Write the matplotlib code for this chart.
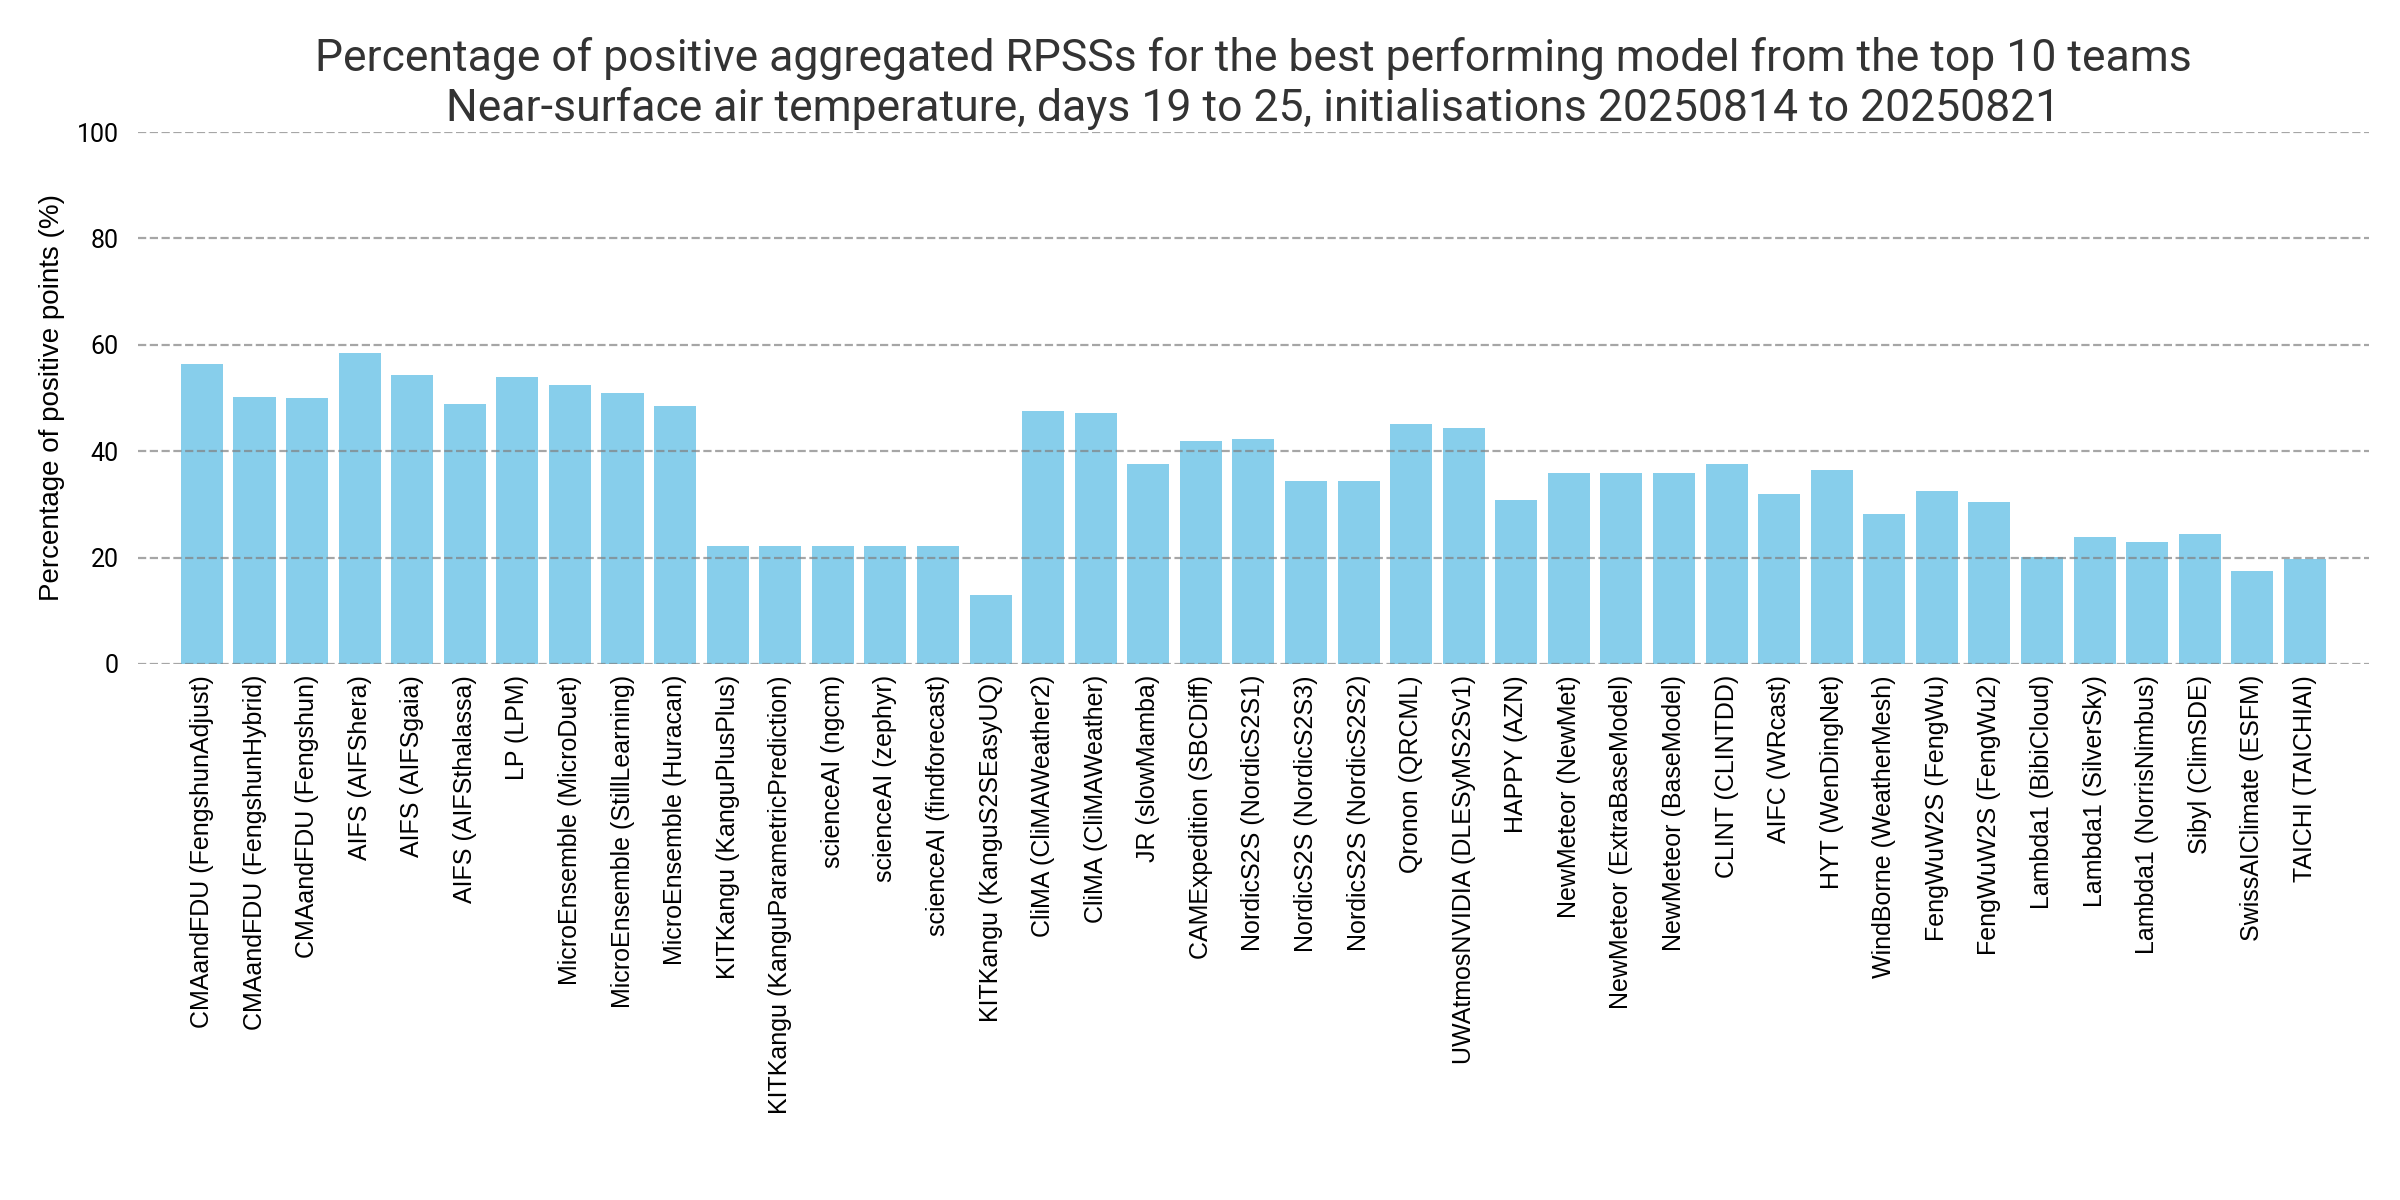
import matplotlib
matplotlib.use("Agg")
import matplotlib.pyplot as plt
import numpy as np

teams = [
    "CMAandFDU (FengshunAdjust)", "CMAandFDU (FengshunHybrid)", "CMAandFDU (Fengshun)",
    "AIFS (AIFShera)", "AIFS (AIFSgaia)", "AIFS (AIFSthalassa)", "LP (LPM)",
    "MicroEnsemble (MicroDuet)", "MicroEnsemble (StillLearning)", "MicroEnsemble (Huracan)",
    "KITKangu (KanguPlusPlus)", "KITKangu (KanguParametricPrediction)", "scienceAI (ngcm)",
    "scienceAI (zephyr)", "scienceAI (findforecast)", "KITKangu (KanguS2SEasyUQ)",
    "CliMA (CliMAWeather2)", "CliMA (CliMAWeather)", "JR (slowMamba)", "CAMExpedition (SBCDiff)",
    "NordicS2S (NordicS2S1)", "NordicS2S (NordicS2S3)", "NordicS2S (NordicS2S2)",
    "Qronon (QRCML)", "UWAtmosNVIDIA (DLESyMS2Sv1)", "HAPPY (AZN)", "NewMeteor (NewMet)",
    "NewMeteor (ExtraBaseModel)", "NewMeteor (BaseModel)", "CLINT (CLINTDD)", "AIFC (WRcast)",
    "HYT (WenDingNet)", "WindBorne (WeatherMesh)", "FengWuW2S (FengWu)", "FengWuW2S (FengWu2)",
    "Lambda1 (BibiCloud)", "Lambda1 (SilverSky)", "Lambda1 (NorrisNimbus)", "Sibyl (ClimSDE)",
    "SwissAIClimate (ESFM)", "TAICHI (TAICHIAI)",
]
percent_positive = [
    56.3, 50.2, 50.0, 58.5, 54.4, 48.9, 54.0, 52.5, 51.0, 48.4,
    22.1, 22.1, 22.1, 22.1, 22.1, 13.0, 47.6, 47.1, 37.6, 42.0,
    42.3, 34.4, 34.4, 45.2, 44.4, 30.8, 35.9, 35.9, 35.9, 37.6,
    31.9, 36.5, 28.2, 32.5, 30.5, 20.1, 23.9, 23.0, 24.4, 17.5, 19.8,
]
yticks = [0, 20, 40, 60, 80, 100]

title = ("Percentage of positive aggregated RPSSs for the best performing model from the top 10 teams\n"
         "Near-surface air temperature, days 19 to 25, initialisations 20250814 to 20250821")

fig = plt.figure(figsize=(12, 6), dpi=200)
ax = fig.add_axes([0.0575, 0.4467, 0.9295, 0.4433])

x = np.arange(len(teams))
ax.bar(x, percent_positive, width=0.8, color="skyblue")
ax.margins(x=0.02)
ax.set_ylim(0, 100)
ax.set_yticks(yticks)
ax.set_xticks(x)
ax.set_xticklabels(teams, rotation=90, fontsize=9, family="Liberation Sans")
for lab in ax.get_yticklabels():
    lab.set_family("Roboto")
    lab.set_fontsize(9)
ax.tick_params(axis="x", length=0, pad=4)
ax.tick_params(axis="y", length=3.5, width=0, pad=3.5)
ax.grid(axis="y", linestyle="--", color="gray", linewidth=0.8, alpha=0.7)
for s in ax.spines.values():
    s.set_visible(False)
ax.set_ylabel("Percentage of positive points (%)", fontsize=10, family="Liberation Sans")
ax.set_title(title, fontsize=16, family="Roboto", color="#333333", pad=4)

fig.savefig("out.png", dpi=200)
